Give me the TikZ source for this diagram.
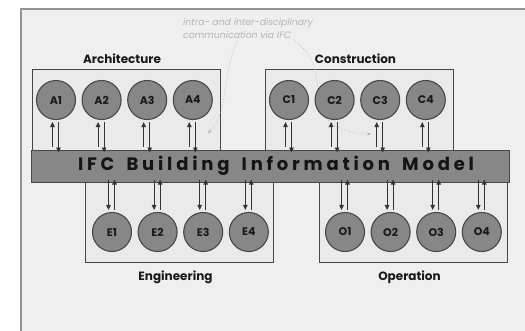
\documentclass[tikz,border=0pt]{standalone}
\usepackage{fontspec}
\setmainfont{Poppins}
\newfontfamily\bimfont[LetterSpace=21,WordSpace=1.6]{Poppins}
\usepackage{xcolor}
\usepackage{tikz}
\usetikzlibrary{arrows.meta,positioning,calc}
\definecolor{framegray}{HTML}{EFEFEF}
\definecolor{boxgray}{HTML}{EAEAEA}
\definecolor{discgray}{HTML}{878787}
\definecolor{edgegray}{HTML}{474747}
\definecolor{notegray}{HTML}{B4B4B4}

\begin{document}
\begin{tikzpicture}[x=1pt,y=-1pt,every node/.style={font=\bfseries\fontsize{11}{13}\selectfont},
  panel/.style={draw=edgegray,fill=boxgray,line width=0.8pt,minimum width=188pt,minimum height=97pt,inner sep=0pt},
  disc/.style={circle,draw=edgegray,fill=discgray,line width=1.1pt,minimum size=39pt,inner sep=0pt,text=black!90},
  band/.style={draw=edgegray,fill=discgray,line width=1pt,minimum width=478pt,minimum height=32pt,inner sep=0pt},
  title/.style={font=\bfseries\fontsize{12}{14}\selectfont,text=black!90},
  arr/.style={-{Triangle[length=5pt,width=4.5pt]},line width=0.9pt,draw=black!80},
  dotarr/.style={dotted,line width=0.7pt,draw=notegray,-{Stealth[length=4pt,width=3.5pt]}}]
\clip (0,0) rectangle (525,330);
\fill[white] (0,0) rectangle (525,330);
\draw[draw=gray!85,fill=framegray,line width=1.4pt] (21,9) rectangle (560,360);
\node[panel] (arch) at (126,117.5) {};
\node[panel] (cons) at (359.5,117.5) {};
\node[panel] (eng) at (179.5,214) {};
\node[panel] (oper) at (413.5,214) {};
\node[title,above=1pt of arch.north,xshift=-4pt] {Architecture};
\node[title,above=1pt of cons.north,xshift=-4pt] {Construction};
\node[title,below=4pt of eng.south,xshift=-4pt] {Engineering};
\node[title,below=4pt of oper.south,xshift=-4pt] {Operation};
\node[anchor=north west,align=left,inner sep=0pt,text=notegray,
  font=\itshape\fontsize{9.3}{13}\selectfont] (note) at (183,18)
  {intra- and inter-disciplinary\\communication via IFC};
\coordinate (tipA) at (208,133);
\coordinate (tipC) at (371,134);
\draw[dotarr] ([xshift=54pt,yshift=-3pt]note.south west) .. controls (222,75) and (228,115) .. (tipA);
\draw[dotarr] ([xshift=110pt,yshift=-1pt]note.south west) .. controls (312,52) and (318,70) .. (318,95)
  .. controls (318,125) and (345,133) .. (tipC);
\node[disc] (A1) at (56,100) {A1};
\node[disc,right=5.5pt of A1] (A2) {A2};
\node[disc,right=5.5pt of A2] (A3) {A3};
\node[disc,right=5.5pt of A3] (A4) {A4};
\node[disc] (C1) at (289,100) {C1};
\node[disc,right=5.5pt of C1] (C2) {C2};
\node[disc,right=5.5pt of C2] (C3) {C3};
\node[disc,right=5.5pt of C3] (C4) {C4};
\node[disc] (E1) at (112,232) {E1};
\node[disc,right=5.5pt of E1] (E2) {E2};
\node[disc,right=5.5pt of E2] (E3) {E3};
\node[disc,right=5.5pt of E3] (E4) {E4};
\node[disc] (O1) at (345,232) {O1};
\node[disc,right=5.5pt of O1] (O2) {O2};
\node[disc,right=5.5pt of O2] (O3) {O3};
\node[disc,right=5.5pt of O3] (O4) {O4};
\node[band,text=black!92,font=\bimfont\bfseries\fontsize{18}{20}\selectfont] (bim) at (270,166) {\hspace*{12pt}IFC Building Information Model};
\foreach \n in {A1,A2,A3,A4,C1,C2,C3,C4}{
  \draw[arr] ([xshift=-3.5pt]\n.south |- bim.north) ++(0,-3) -- ([xshift=-3.5pt,yshift=-2pt]\n.south);
  \draw[arr] ([xshift=2.5pt,yshift=-2pt]\n.south) -- ([xshift=2.5pt,yshift=-3pt]\n.south |- bim.north);
}
\foreach \n in {E1,E2,E3,E4,O1,O2,O3,O4}{
  \draw[arr] ([xshift=-3.5pt,yshift=3pt]\n.north |- bim.south) -- ([xshift=-3.5pt,yshift=2pt]\n.north);
  \draw[arr] ([xshift=2.5pt,yshift=2pt]\n.north) -- ([xshift=2.5pt,yshift=3pt]\n.north |- bim.south);
}
\end{tikzpicture}
\end{document}
